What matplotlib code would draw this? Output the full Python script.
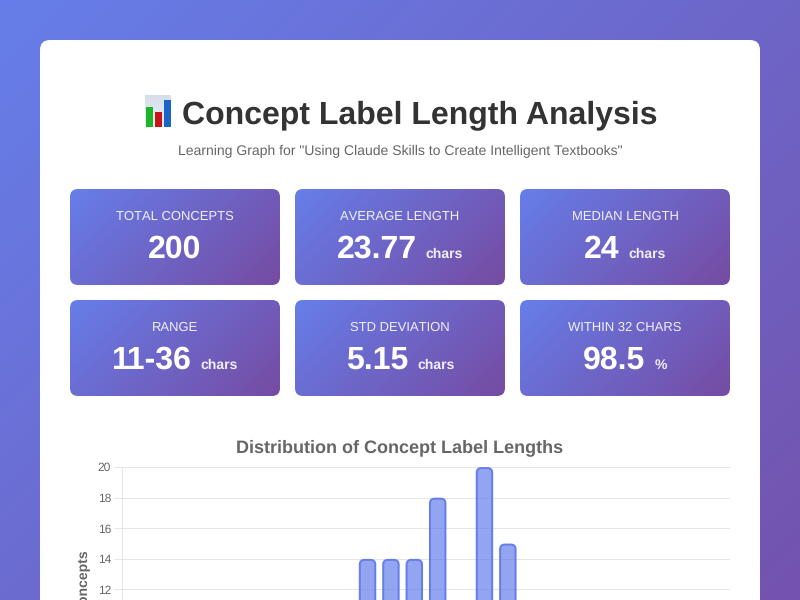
import numpy as np
import matplotlib
matplotlib.use('Agg')
import matplotlib.pyplot as plt
from matplotlib.colors import LinearSegmentedColormap
from matplotlib.patches import FancyBboxPatch, Rectangle

plt.rcParams['font.family'] = ['Liberation Sans', 'DejaVu Sans']
plt.rcParams['text.hinting'] = 'none'
plt.rcParams['text.hinting_factor'] = 1

# only the part of the chart that shows above the fold
lengths = [21, 22, 23, 24, 26, 27]
counts = [14, 14, 14, 18, 20, 15]
y_ticks = [12, 14, 16, 18, 20]

stat_labels = ['TOTAL CONCEPTS', 'AVERAGE LENGTH', 'MEDIAN LENGTH',
               'RANGE', 'STD DEVIATION', 'WITHIN 32 CHARS']
stat_values = ['200', '23.77', '24', '11-36', '5.15', '98.5']
stat_units = ['', 'chars', 'chars', 'chars', 'chars', '%']

PX = 0.72  # css px to points at dpi 100
cmap = LinearSegmentedColormap.from_list('page', ['#667eea', '#764ba2'])


def gradient(w, h, total_w, total_h):
    xx, yy = np.meshgrid(np.arange(w) + 0.5, np.arange(h) + 0.5)
    return (xx + yy) / (total_w + total_h)


fig = plt.figure(figsize=(8, 6), dpi=100)
bg = fig.add_axes([0, 0, 1, 1])
bg.axis('off')

# page background, the page is taller than the screenshot
bg.imshow(gradient(800, 600, 800, 850), cmap=cmap, vmin=0, vmax=1,
          extent=(0, 800, 600, 0), aspect='auto', zorder=0)
bg.add_patch(FancyBboxPatch((40, 40), 720, 760, boxstyle='round,pad=0,rounding_size=10',
                            fc='white', ec='none', zorder=1))

# the bar chart emoji
bg.imshow(np.linspace(0, 1, 32).reshape(-1, 1),
          cmap=LinearSegmentedColormap.from_list('icon', ['#d5dfeb', '#e9eef4']),
          extent=(145, 171, 127, 95), aspect='auto', zorder=2)
for x0, top, col in [(146, 106.5, '#1fb32a'), (155, 112, '#c8131a'), (164, 99.5, '#1a63c8')]:
    bg.add_patch(Rectangle((x0, top), 6.5, 126.5 - top, fc=col, ec='none', zorder=3))

bg.text(420, 123, 'Concept Label Length Analysis', fontsize=32 * PX, fontweight='bold',
        color='#333333', ha='center', va='baseline', zorder=4)
bg.text(400, 155.5, 'Learning Graph for "Using Claude Skills to Create Intelligent Textbooks"',
        fontsize=14 * PX, color='#666666', ha='center', va='baseline', zorder=4)

# stat cards
renderer = fig.canvas.get_renderer()
for i in range(len(stat_labels)):
    x0 = 70 + 225 * (i % 3)
    y0 = 189 + 111 * (i // 3)
    card = FancyBboxPatch((x0, y0), 210, 96, boxstyle='round,pad=0,rounding_size=8',
                          fc='none', ec='none', zorder=2)
    bg.add_patch(card)
    im = bg.imshow(gradient(210, 96, 210, 96), cmap=cmap, vmin=0, vmax=1,
                   extent=(x0, x0 + 210, y0 + 96, y0), aspect='auto', zorder=3)
    im.set_clip_path(card)
    cx = x0 + 105
    bg.text(cx, y0 + 31, stat_labels[i], fontsize=13.25 * PX, color='white', alpha=0.9,
            ha='center', va='baseline', zorder=4)
    val = bg.text(cx, y0 + 69, stat_values[i], fontsize=32.5 * PX, fontweight='bold',
                  color='white', ha='center', va='baseline', zorder=4)
    if stat_units[i]:
        unit = bg.text(cx, y0 + 69, stat_units[i], fontsize=14 * PX, fontweight='bold',
                       color='white', alpha=0.9, ha='left', va='baseline', zorder=4)
        w1 = val.get_window_extent(renderer).width
        w2 = unit.get_window_extent(renderer).width
        left = cx - (w1 + 9 + w2) / 2
        val.set_ha('left')
        val.set_x(left)
        unit.set_x(left + w1 + 9)
bg.set_xlim(0, 800)
bg.set_ylim(600, 0)

bg.text(400, 452, 'Distribution of Concept Label Lengths', fontsize=18 * PX, fontweight='bold',
        color='#666666', ha='center', va='baseline', zorder=4)
bg.text(84, 550, 'Number of Concepts', fontsize=14 * PX, fontweight='bold', color='#666666',
        rotation=90, ha='center', va='top', zorder=4)

# chart, the axes runs on below the bottom edge of the screenshot
ax = fig.add_axes([122 / 800, (600 - 773) / 600, 608 / 800, 306 / 600])
ax.patch.set_alpha(0)
ax.set_xlim(10.5, 36.5)
ax.set_ylim(0, 20)
ax.grid(axis='y', color='#e5e5e5', linewidth=1 * PX)
ax.set_axisbelow(True)
for side in ['top', 'right', 'bottom']:
    ax.spines[side].set_visible(False)
ax.spines['left'].set_color('#e5e5e5')
ax.spines['left'].set_linewidth(1 * PX)
ax.set_yticks(y_ticks)
ax.set_xticks([])
ax.tick_params(axis='y', length=8 * PX, width=1 * PX, color='#e5e5e5', labelcolor='#666666',
               labelsize=12.4 * PX, pad=3 * PX)

bar_w = 0.66
for x, n in zip(lengths, counts):
    ax.add_patch(FancyBboxPatch((x - bar_w / 2, 0), bar_w, n - 0.07,
                                boxstyle='round,pad=0,rounding_size=0.2',
                                mutation_aspect=(1 / 15.3) / (1 / 23.38),
                                fc=(0.4, 0.494, 0.918, 0.7), ec='#667eea', lw=2 * PX))

fig.savefig('out.png', dpi=100)
